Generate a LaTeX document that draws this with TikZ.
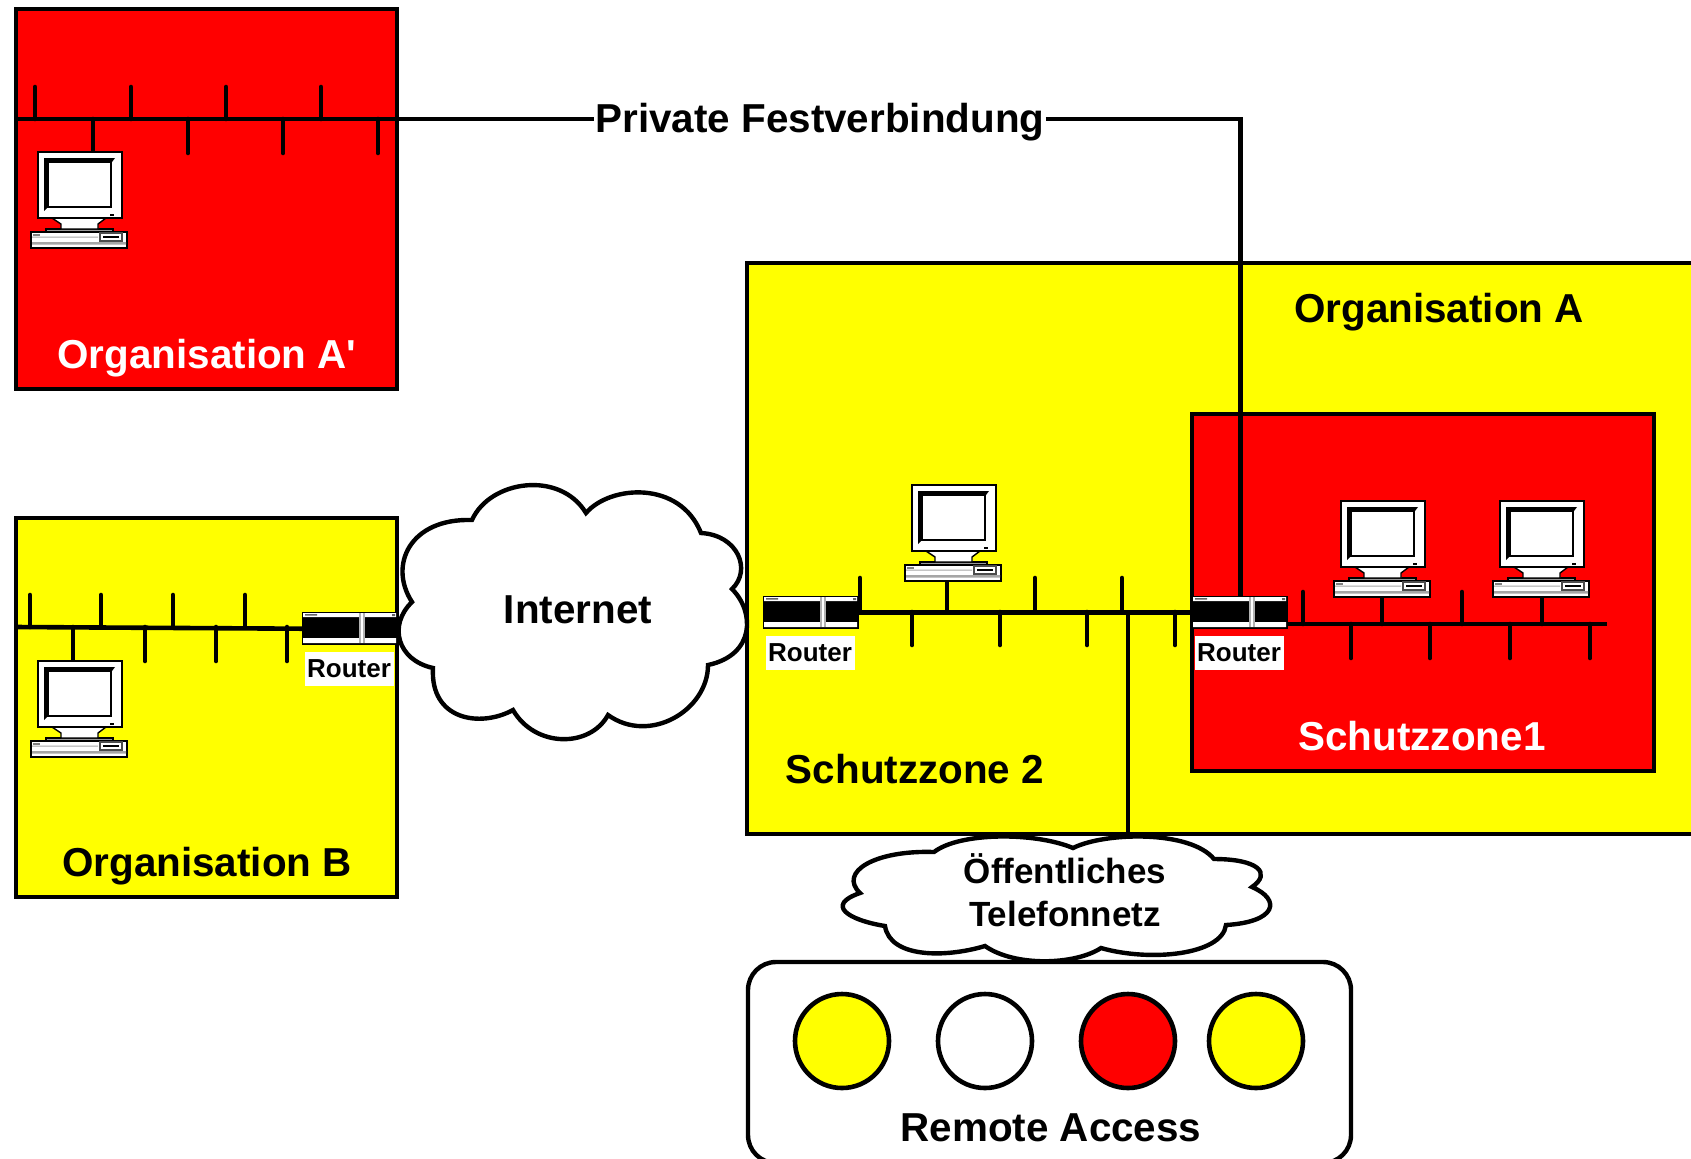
\documentclass[tikz,border=0pt]{standalone}
\usepackage{fontspec}
\setmainfont{Liberation Sans}[Ligatures=TeXOff]
\definecolor{zonered}{RGB}{255,0,0}
\definecolor{zoneyellow}{RGB}{255,255,0}
\tikzset{
  pics/computer/.style={code={
    \draw[thin line,fill=white] (-7,80) rectangle (89,96);
    \fill[black!35] (-6,90) rectangle (88,92.5) (-6,84.5) rectangle (60,85.5);
    \draw[thin line,fill=black!40] (8,77) rectangle (75,80);
    \draw[thin line,fill=white] (14,66) -- (68,66) -- (60,72) -- (60,77) -- (23,77) -- (23,72) -- cycle;
    \draw[thin line,fill=white] (0,0) rectangle (84,66);
    \fill (6,6) -- (77,6) -- (74,10) -- (10,10) -- (10,55) -- (6,59) -- cycle;
    \draw[thin line,fill=white] (10,10) rectangle (73,55);
    \fill (72,62) rectangle (76,64);
    \draw[thin line,black!70] (62,81) rectangle (84,89);
    \draw[thin line] (65,85) -- (81,85);
    \fill[black!50] (-5,81.5) rectangle (2,83.5);
  }},
  pics/routericon/.style={code={
    \node[draw,fill=black,thin line,inner sep=0pt,minimum width=47.5pt,minimum height=16pt,anchor=north west] (-body) at (0,0) {};
    \fill[white] (1,1) rectangle (94,5) (1,26) rectangle (94,31);
    \fill[black!30] (57,1) rectangle (63,31);
    \fill[white] (59,1) rectangle (60.5,31);
    \fill[black!60] (3,2) rectangle (15,3.5) (90,2) rectangle (93,4);
  }},
}
\begin{document}
\begin{tikzpicture}[x=0.5pt,y=-0.5pt,
    thin line/.style={line width=0.7pt,draw=black},
    zone/.style={draw=black,line width=2.3pt,line join=miter},
    wire/.style={draw=black,line width=2.3pt},
    tick/.style={draw=black,line width=2.3pt,line cap=round},
    cloud line/.style={draw=black,fill=white,line width=2.2pt,line join=miter},
    big/.style={font=\bfseries\fontsize{20.2}{24}\selectfont,inner sep=0.5pt},
    routertext/.style={fill=white,font=\bfseries\fontsize{13}{15}\selectfont,inner sep=0pt,minimum width=44.5pt,minimum height=17pt},
    dialin/.style={draw=black,line width=2.3pt,circle,inner sep=0pt,minimum size=47pt}]
  \useasboundingbox (0,0) rectangle (1691,1158);
  % organisation boxes
  \draw[zone,fill=zonered] (16,9) rectangle +(381,380);
  \draw[zone,fill=zoneyellow] (16,518) rectangle +(381,379);
  \draw[zone,fill=zoneyellow] (747,263) rectangle +(960,571);
  \draw[zone,fill=zonered] (1192,414) rectangle +(462,357);
  % bus stubs
  \foreach \x in {35,131,226,321} \draw[tick] (\x,119) -- (\x,87);
  \foreach \x in {93,188,283,378} \draw[tick] (\x,119) -- (\x,153);
  \foreach \x in {30,101,173,245} \draw[tick] (\x,627) -- (\x,595);
  \foreach \x in {73,145,216,287} \draw[tick] (\x,627) -- (\x,661);
  \foreach \x in {860,947,1035,1122} \draw[tick] (\x,612) -- (\x,578);
  \foreach \x in {912,1000,1087,1175} \draw[tick] (\x,612) -- (\x,645);
  \foreach \x in {1303,1382,1462,1542} \draw[tick] (\x,624) -- (\x,592);
  \foreach \x in {1351,1430,1510,1590} \draw[tick] (\x,624) -- (\x,658);
  % computers
  \pic (pcAp) at (38,152) {computer};
  \pic (pcB) at (38,661) {computer};
  \pic (pcZ) at (912,485) {computer};
  \pic (pcS) at (1341,501) {computer};
  \pic (pcT) at (1500,501) {computer};
  % routers
  \pic (routerB) at (302,612) {routericon};
  \pic (routerL) at (763,596) {routericon};
  \pic (routerS) at (1192,596) {routericon};
  \node[routertext] (labelB) at (349,669) {Router};
  \node[routertext] (labelL) at (810,653) {Router};
  \node[routertext] (labelS) at (1239,653) {Router};
  % lines
  \coordinate (busAp) at (16,119);
  \coordinate (busB) at (16,627);
  \coordinate (busS) at (1287,624);
  \coordinate (busSend) at (1607,624);
  \coordinate (dropTop) at (1128,612);
  \coordinate (dropEnd) at (1128,834);
  \node[big] (festlabel) at (820,122) {Private Festverbindung};
  \draw[wire] (busAp) -- (busAp -| festlabel.west);
  \draw[wire] (busAp -| festlabel.east) -| (routerS-body.north);
  \draw[wire] (busB) -- (routerB-body.west);
  \draw[wire] (routerL-body.east) -- (routerS-body.west);
  \draw[wire] (busS) -- (busSend);
  % clouds
  \draw[cloud line] (412,602) .. controls (388,565) and (410,518) .. (472,520)
    .. controls (490,480) and (560,470) .. (586,513)
    .. controls (610,485) and (680,480) .. (701,533)
    .. controls (738,535) and (752,570) .. (732,589)
    .. controls (755,612) and (755,655) .. (708,665)
    .. controls (708,710) and (650,745) .. (608,715)
    .. controls (590,748) and (535,748) .. (513,710)
    .. controls (480,728) and (430,720) .. (433,668)
    .. controls (397,660) and (388,625) .. cycle;
  \draw[cloud line] (860,893) .. controls (838,872) and (875,850) .. (934,852)
    .. controls (960,832) and (1035,832) .. (1073,848)
    .. controls (1105,832) and (1190,830) .. (1214,859)
    .. controls (1258,859) and (1272,873) .. (1252,887)
    .. controls (1282,900) and (1276,922) .. (1226,925)
    .. controls (1222,955) and (1150,962) .. (1101,948)
    .. controls (1075,965) and (1015,967) .. (985,946)
    .. controls (945,958) and (890,958) .. (885,926)
    .. controls (848,920) and (825,905) .. cycle;
  \draw[wire] (dropTop) -- (dropEnd);
  % remote access
  \draw[draw=black,line width=2.2pt,rounded corners=14pt,fill=white] (748,962) rectangle (1351,1163);
  \node[dialin,fill=zoneyellow] (dialA) at (842,1041) {};
  \node[dialin,fill=white] (dialB) at (985,1041) {};
  \node[dialin,fill=zonered] (dialC) at (1128,1041) {};
  \node[dialin,fill=zoneyellow] (dialD) at (1256,1041) {};
  % labels
  \node[big,text=white] (labelOrgAp) at (207,358) {Organisation A'};
  \node[big] (labelOrgB) at (207,866) {Organisation B};
  \node[big] (labelInternet) at (578,610) {Internet};
  \node[big] (labelOrgA) at (1439,312) {Organisation A};
  \node[big] (labelZone) at (915,769) {Schutzzone 2};
  \node[big,text=white] (labelZoneOne) at (1422,736) {Schutzzone1};
  \node[big,font=\bfseries\fontsize{17.5}{21.5}\selectfont,align=center] (labelPhone) at (1065,890) {Öffentliches\\Telefonnetz};
  \node[big] (labelRemote) at (1051,1128) {Remote Access};
\end{tikzpicture}
\end{document}
